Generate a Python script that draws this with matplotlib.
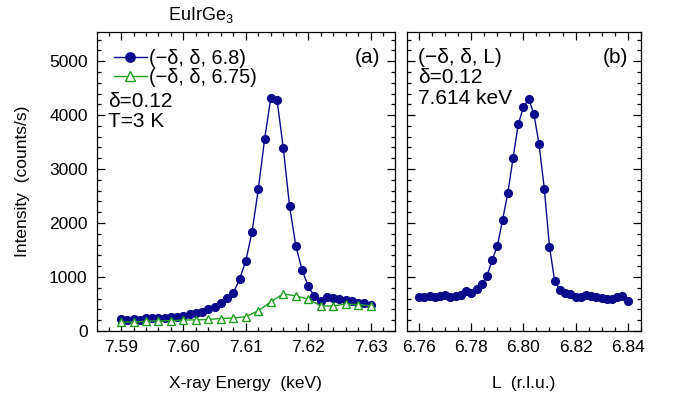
import numpy as np
import matplotlib
matplotlib.use("Agg")
import matplotlib.pyplot as plt
from matplotlib.ticker import MultipleLocator, FormatStrFormatter

plt.rcParams['font.family'] = ['Liberation Sans', 'DejaVu Sans']
plt.rcParams['mathtext.fontset'] = 'custom'
plt.rcParams['mathtext.rm'] = 'Liberation Sans'

# ---- data ----
energy = np.round(np.arange(7.590, 7.6305, 0.001), 3)
int_68 = [215, 205, 225, 205, 235, 240, 240, 240, 265, 265, 280, 315, 330, 355,
          405, 440, 525, 615, 710, 960, 1305, 1840, 2630, 3550, 4320, 4280, 3390,
          2320, 1580, 1135, 825, 640, 565, 625, 615, 600, 575, 550, 515, 525, 490]
energy_675 = np.round(np.arange(7.590, 7.6305, 0.002), 3)
int_675 = [165, 165, 180, 190, 190, 205, 205, 215, 230, 240, 265, 375, 540, 690,
           650, 590, 465, 465, 500, 490, 465]
L_vals = np.round(np.arange(6.760, 6.8405, 0.002), 3)
int_L = [625, 625, 649, 625, 649, 662, 637, 649, 662, 736, 699, 773, 872, 1020,
         1317, 1577, 2059, 2554, 3197, 3828, 4150, 4298, 4026, 3457, 2640, 1564,
         922, 761, 699, 686, 625, 637, 662, 649, 637, 612, 600, 600, 625, 649, 562]

blue = '#0a0a8c'
green = '#1f9e1f'
fs = 12.5     # tick labels / axis labels
fs2 = 15.0    # in-panel texts
fsl = 14.3    # legend

fig = plt.figure(figsize=(6.83, 4.01), dpi=100)
W, H = 683, 401
def rect(l, r, t, b):
    return [l / W, 1 - b / H, (r - l) / W, (b - t) / H]

axa = fig.add_axes(rect(96.7, 395, 32, 331))
axb = fig.add_axes(rect(406.7, 640.7, 32, 331))

for ax in (axa, axb):
    ax.set_ylim(0, 5540)
    ax.yaxis.set_major_locator(MultipleLocator(1000))
    ax.yaxis.set_minor_locator(MultipleLocator(200))
    ax.tick_params(which='both', direction='in', top=True, right=True,
                   labelsize=fs, width=0.9)
    ax.tick_params(which='major', length=6, pad=6.5)
    ax.tick_params(which='minor', length=3)
    for s in ax.spines.values():
        s.set_linewidth(0.9)

axb.tick_params(labelleft=False)

# panel (a)
axa.plot(energy, int_68, '-o', color=blue, lw=1.0, ms=5.6,
         label='(\u2212\u03b4, \u03b4, 6.8)', zorder=3)
axa.plot(energy_675, int_675, '-^', color=green, lw=1.0, ms=6.2,
         mfc='white', mec=green, mew=1.0,
         label='(\u2212\u03b4, \u03b4, 6.75)', zorder=4)
axa.set_xlim(7.5861, 7.6339)
axa.xaxis.set_major_locator(MultipleLocator(0.01))
axa.xaxis.set_minor_locator(MultipleLocator(0.002))
axa.xaxis.set_major_formatter(FormatStrFormatter('%.2f'))
axa.legend(loc='upper left', bbox_to_anchor=(0.058, 0.942), frameon=False,
           fontsize=fsl, handlelength=1.65, handletextpad=0.1,
           labelspacing=-0.04, borderaxespad=0.0, borderpad=0.0,
           markerscale=1.2)
axa.text(0.95, 0.916, '(a)', transform=axa.transAxes, ha='right', va='center',
         fontsize=fs2)
axa.text(0.038, 0.768, '\u03b4=0.12', transform=axa.transAxes, ha='left',
         va='center', fontsize=fs2)
axa.text(0.038, 0.700, 'T=3 K', transform=axa.transAxes, ha='left',
         va='center', fontsize=fs2)
axa.set_ylabel('Intensity  (counts/s)', fontsize=fs)
axa.yaxis.set_label_coords(-0.225, 0.5)
axa.set_xlabel('X-ray Energy  (keV)', fontsize=fs, labelpad=15)

# panel (b)
axb.plot(L_vals, int_L, '-o', color=blue, lw=1.0, ms=5.6, zorder=3)
axb.set_xlim(6.7552, 6.845)
axb.xaxis.set_major_locator(MultipleLocator(0.02))
axb.xaxis.set_minor_locator(MultipleLocator(0.005))
axb.xaxis.set_major_formatter(FormatStrFormatter('%.2f'))
axb.text(0.946, 0.916, '(b)', transform=axb.transAxes, ha='right', va='center',
         fontsize=fs2)
axb.text(0.048, 0.916, '(\u2212\u03b4, \u03b4, L)', transform=axb.transAxes,
         ha='left', va='center', fontsize=fs2)
axb.text(0.048, 0.849, '\u03b4=0.12', transform=axb.transAxes, ha='left',
         va='center', fontsize=fs2)
axb.text(0.048, 0.776, '7.614 keV', transform=axb.transAxes, ha='left',
         va='center', fontsize=fs2)
axb.set_xlabel('L  (r.l.u.)', fontsize=fs, labelpad=15)

fig.text(201 / W, 1 - 15 / H, 'EuIrGe$_3$', ha='center', va='center',
         fontsize=13)

fig.savefig('out.png', dpi=100)
